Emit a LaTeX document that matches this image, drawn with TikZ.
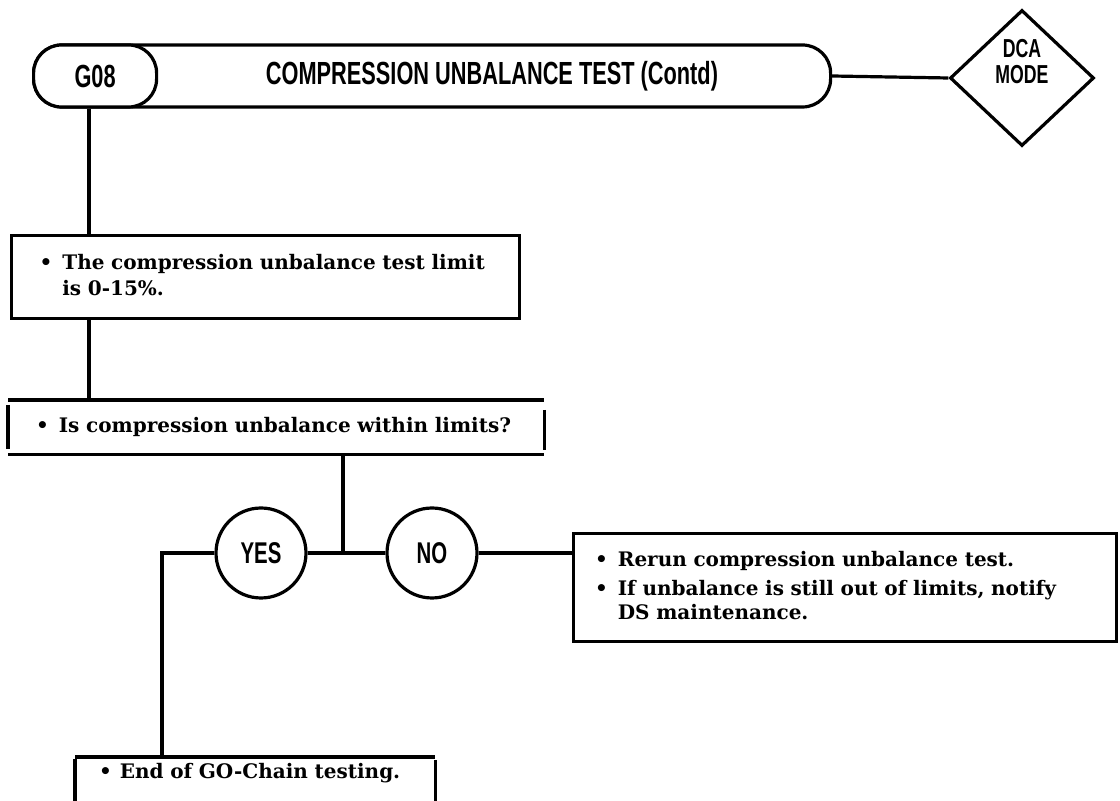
\documentclass[tikz,border=0pt]{standalone}
\usepackage{fontspec}
\setmainfont{DejaVu Serif}
\newfontfamily\hdrfont[FakeStretch=0.68]{Liberation Sans}
\usetikzlibrary{shapes.geometric,positioning}

\begin{document}
\begin{tikzpicture}[
  x=0.5pt, y=-0.5pt, line width=1.6pt,
  %% header pill and title bar
  bar/.style={draw, rounded corners=14pt, minimum height=31pt, inner sep=0pt,
              anchor=west},
  hdr/.style={font=\hdrfont\bfseries\fontsize{16}{17}\selectfont},
  %% diamond mode flag
  flag/.style={diamond, draw, minimum width=72pt, minimum height=68pt,
               inner sep=0pt, align=center,
               font=\hdrfont\bfseries\fontsize{13}{13}\selectfont},
  %% instruction box (text only, outline drawn where needed)
  stepbox/.style={anchor=north west, inner sep=0pt, align=left,
                  font=\bfseries\fontsize{10}{13}\selectfont},
  %% yes / no answer circle
  answer/.style={circle, draw, fill=white, minimum size=45pt, inner sep=0pt,
                 font=\hdrfont\bfseries\fontsize{15}{15}\selectfont},
]
\clip (0,0) rectangle (1120,801);

%% header
\node[bar, minimum width=398.5pt] (title) at (32,76) {};
\node[bar, fill=white, minimum width=61.5pt, hdr] (g08) at (32,76) {G08};
\node[hdr] (titletext) at (492,76) {COMPRESSION UNBALANCE TEST (Contd)};
\node[flag] (mode) at (1022,78) {DCA\\MODE\\[4pt]};

%% instruction boxes
\node[stepbox, draw, minimum width=254pt, minimum height=41.5pt,
      text width=226pt] (limit) at (10,234)
  {\begin{tabular}{@{}l@{\hspace{5pt}}l@{}}
   \textbullet & The compression unbalance test limit\\
               & is 0-15\%.
   \end{tabular}};
\node[stepbox, minimum width=266.5pt, minimum height=25.5pt,
      text width=240pt] (within) at (8,400)
  {\begin{tabular}{@{}l@{\hspace{5pt}}l@{}}
   \textbullet & Is compression unbalance within limits?
   \end{tabular}};
\node[answer] (yes) at (261,553) {YES};
\node[answer] (no)  at (432,553) {NO};
\coordinate (split) at (343,553);
\coordinate (bend)  at (162,553);
\node[stepbox, draw, minimum width=271.5pt, minimum height=54pt,
      text width=250pt] (rerun) at (572,532)
  {\begin{tabular}{@{}l@{\hspace{5pt}}l@{}}
   \textbullet & Rerun compression unbalance test.\\[1.5pt]
   \textbullet & If unbalance is still out of limits, notify\\[-1pt]
               & DS maintenance.
   \end{tabular}};
\node[stepbox, minimum width=178.5pt, minimum height=15pt,
      text width=156pt] (endgo) at (75,757)
  {\begin{tabular}{@{}l@{\hspace{4pt}}l@{}}
   \textbullet & End of GO-Chain testing.
   \end{tabular}};

%% open outlines of the question and end boxes
\draw (within.north west) -- (within.north east)
      (within.south west) -- (within.south east);
\draw ([yshift=-2.5pt]within.north west) -- ([yshift=2.5pt]within.south west);
\draw ([yshift=-5pt]within.north east) -- ([yshift=2pt]within.south east);
\draw (endgo.north west) -- (endgo.north east);
\draw ([yshift=-1pt]endgo.north west) -- (endgo.west |- 0,810);
\draw ([yshift=-1.5pt]endgo.north east) -- (endgo.east |- 0,810);

%% connectors
\draw (title.east) -- (mode.west);
\draw (g08.south -| 89,0) -- (limit.north -| 89,0);
\draw (limit.south -| 89,0) -- (within.north -| 89,0);
\draw (within.south -| split) -- (split);
\draw (yes.east) -- (no.west);
\draw (no.east) -- (rerun.west |- no.east);
\draw (yes.west) -- (bend) -- (endgo.north -| bend);
\end{tikzpicture}
\end{document}
